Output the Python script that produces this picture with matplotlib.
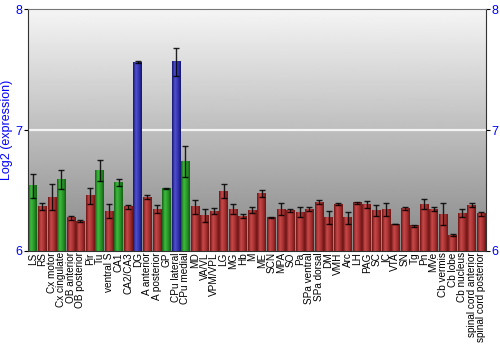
import matplotlib
matplotlib.use("Agg")
import matplotlib.pyplot as plt
from matplotlib.colors import LinearSegmentedColormap
import numpy as np

plt.rcParams["font.family"] = ["Liberation Sans", "DejaVu Sans"]

# Regions, expression values (log2) and error bar half-widths
regions = [
    "LS", "RS", "Cx motor", "Cx cingulate", "OB anterior", "OB posterior",
    "Pir", "Tu", "ventral S", "CA1", "CA2/CA3", "DG", "A anterior",
    "A posterior", "GP", "CPu lateral", "CPu medial", "MD", "VA/VL",
    "VPM/VPL", "LG", "MG", "Hb", "M", "ME", "SCN", "MPA", "SO", "Pa",
    "SPa ventral", "SPa dorsal", "DM", "VMH", "Arc", "LH", "PAG", "SC", "IC",
    "VTA", "SN", "Tg", "Pn", "MVe", "Cb vermis", "Cb lobe", "Cb nucleus",
    "spinal cord anterior", "spinal cord posterior",
]
values = [
    6.54, 6.366, 6.446, 6.59, 6.273, 6.248, 6.455, 6.667, 6.33, 6.568,
    6.366, 7.562, 6.446, 6.347, 6.515, 7.565, 6.736, 6.364, 6.292, 6.33,
    6.493, 6.344, 6.289, 6.339, 6.477, 6.273, 6.344, 6.333, 6.32, 6.347,
    6.405, 6.275, 6.388, 6.273, 6.397, 6.383, 6.333, 6.341, 6.223, 6.35,
    6.207, 6.388, 6.347, 6.303, 6.13, 6.314, 6.38, 6.306,
]
errors = [
    0.10, 0.03, 0.105, 0.08, 0.02, 0.005, 0.065, 0.087, 0.057, 0.03,
    0.017, 0.01, 0.02, 0.033, 0.005, 0.117, 0.128, 0.055, 0.056, 0.028,
    0.058, 0.041, 0.017, 0.028, 0.028, 0.004, 0.05, 0.011, 0.041, 0.014,
    0.019, 0.052, 0.011, 0.05, 0.006, 0.029, 0.044, 0.052, 0.004, 0.014,
    0.011, 0.044, 0.019, 0.09, 0.008, 0.03, 0.014, 0.014,
]
# g = green, r = red, b = blue
groups = list("grrgrrrgrgrbrrgbg") + ["r"] * 31

palettes = {
    "g": ["#145f14", "#3dbb3d", "#2a962a", "#145f14"],
    "r": ["#6e1515", "#c84848", "#a83232", "#6e1515"],
    "b": ["#15156e", "#5050d0", "#3434b0", "#15156e"],
}
cmaps = {k: LinearSegmentedColormap.from_list(k, v) for k, v in palettes.items()}

fig = plt.figure(figsize=(5, 3.5), dpi=100)
ax = fig.add_axes([0.056, 0.283, 0.916, 0.691])

ymin, ymax = 6, 8
n = len(regions)
ax.set_xlim(-0.5, n - 0.5)
ax.set_ylim(ymin, ymax)

# background gradient
bg = np.linspace(0.53, 0.96, 256).reshape(-1, 1)
ax.imshow(bg, cmap="gray", vmin=0, vmax=1, origin="lower", aspect="auto",
          extent=(-0.5, n - 0.5, ymin, ymax), zorder=0)
ax.axhline(7, color="#f4f4f4", lw=1.6, zorder=1)

grad = np.linspace(0, 1, 64).reshape(1, -1)
w = 0.45
for i, (v, g) in enumerate(zip(values, groups)):
    ax.imshow(grad, cmap=cmaps[g], aspect="auto",
              extent=(i - w, i + w, ymin, v), zorder=2)

ax.errorbar(range(n), values, yerr=errors, fmt="none", ecolor="black",
            elinewidth=1, capsize=2.2, capthick=1, alpha=0.85, zorder=3)

ax.set_xticks(range(n))
ax.set_xticklabels(regions, rotation=90, fontsize=7.2)
ax.tick_params(axis="x", length=0, pad=1)
ax.set_yticks([6, 7, 8])
ax.tick_params(axis="y", colors="black", labelcolor="blue", labelsize=9,
               length=3, right=True, labelright=True, pad=1)
ax.set_ylabel("Log2 (expression)", color="blue", fontsize=9, labelpad=2)

for side in ["left", "right", "bottom"]:
    ax.spines[side].set_color("#333333")
ax.spines["top"].set_color("#777777")

fig.savefig("out.png", dpi=100)
